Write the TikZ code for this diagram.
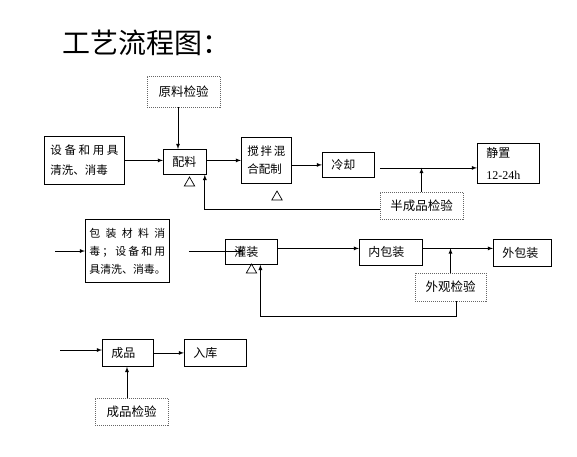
\documentclass[tikz,border=0pt]{standalone}
\usepackage{fontspec}
\setmainfont{Liberation Serif}
\newfontfamily\cjk{Noto Sans CJK SC}
\usetikzlibrary{shapes.geometric}

\begin{document}
\begin{tikzpicture}[x = 1pt, y = -1pt, >= latex, line width = 0.8pt,
	box/.style = {draw, anchor = north west, inner xsep = 9pt, inner ysep = 0pt, align = left, font = \cjk\fontsize{12}{19}\selectfont},
	check/.style = {draw = black!60, line width = 0.6pt, dash pattern = on 1pt off 1pt, inner sep = 0pt, align = center, font = \cjk\fontsize{12.5}{19}\selectfont},
	tri/.style = {draw, regular polygon, regular polygon sides = 3, minimum size = 12pt, inner sep = 0pt, line width = 0.7pt}]
	\useasboundingbox (0,0) rectangle (577,456);
	\node[anchor = west, inner sep = 0pt, font = \cjk\fontsize{28}{28}\selectfont] (0) at (62,43) {工艺流程图：};

	\node[box, inner xsep = 6pt, text width = 68pt, minimum height = 48pt, font = \cjk\fontsize{11.5}{20}\selectfont] (1) at (44,136) {设\hfill 备\hfill 和\hfill 用\hfill 具\\清洗、消毒};
	\node[check, minimum width = 73pt, minimum height = 31pt] (2) at (183.5,91.5) {原料检验};
	\node[box, text width = 25pt, minimum height = 25pt] (3) at (163,149) {配料};
	\node[box, inner xsep = 6pt, text width = 38pt, minimum height = 46pt, font = \cjk\fontsize{11.5}{18}\selectfont] (4) at (241,137) {搅\hfill 拌\hfill 混\\合配制};
	\node[box, text width = 34pt, minimum height = 25pt] (5) at (322,152) {冷却};
	\node[box, text width = 44pt, minimum height = 40pt, font = \cjk\fontsize{12}{22}\selectfont] (6) at (477,143) {静置\\{\rmfamily 12-24h}};
	\node[check, minimum width = 83pt, minimum height = 27pt] (7) at (421.5,205.5) {半成品检验};
	\node[tri] (t1) at (189.5,183) {};
	\node[tri] (t2) at (277,197) {};

	\node[box, inner xsep = 4pt, text width = 76pt, minimum height = 63pt, font = \cjk\fontsize{10.9}{18}\selectfont] (8) at (85,219) {包\hfill 装\hfill 材\hfill 料\hfill 消\\毒\hfill ；\hfill 设\hfill 备\hfill 和\hfill 用\\具清洗、消毒。};
	\node[box, text width = 34pt, minimum height = 25pt] (9) at (225,239) {灌装};
	\node[box, text width = 45pt, minimum height = 26pt] (10) at (359,239) {内包装};
	\node[box, text width = 40pt, minimum height = 27pt] (11) at (493,239) {外包装};
	\node[check, minimum width = 71pt, minimum height = 28pt] (12) at (450.5,287) {外观检验};
	\node[tri] (t3) at (251.5,270) {};

	\node[box, text width = 33pt, minimum height = 27pt] (13) at (102,339) {成品};
	\node[box, text width = 44pt, minimum height = 27pt] (14) at (184,339) {入库};
	\node[check, minimum width = 73pt, minimum height = 27pt] (15) at (131.5,411.5) {成品检验};

	\coordinate (a) at (55,251);
	\coordinate (b) at (60,350);
	\coordinate (c1) at ([xshift = 5pt, yshift = -3pt]5.east);
	\coordinate (c2) at ([yshift = 3.5pt]9.east);

	\draw[->] ([xshift = -5.5pt]2.south) -- ([xshift = -5.5pt]2.south |- 3.north);
	\draw[->] (1.east) -- (1.east -| 3.west);
	\draw[->] (1.east -| 3.east) -- (1.east -| 4.west);
	\draw[->] (5.west -| 4.east) -- (5.west);
	\draw[->] (c1) -- (c1 -| 6.west);
	\draw[->] (7.north) -- (7.north |- c1);
	\draw[->] ([yshift = -3.5pt]7.west) -| ([xshift = -2pt]3.south east);

	\draw[->] (a) -- (a -| 8.west);
	\draw[->] ([xshift = 19pt]8.east) -- ([xshift = 19pt]8.east -| 9.west);
	\draw[->] (c2) -- (c2 -| 10.west);
	\draw[->] (c2 -| 10.east) -- (c2 -| 11.west);
	\draw[->] (12.north) -- (12.north |- c2);
	\draw[->] ([xshift = 6pt]12.south) -- ++(0,15) -| ([xshift = 9pt]9.south);

	\draw[->] (b) -- (b -| 13.west);
	\draw[->] (13.east) -- (14.west);
	\draw[->] ([xshift = -4.5pt]15.north) -- ([xshift = -4.5pt]15.north |- 13.south);
\end{tikzpicture}
\end{document}
